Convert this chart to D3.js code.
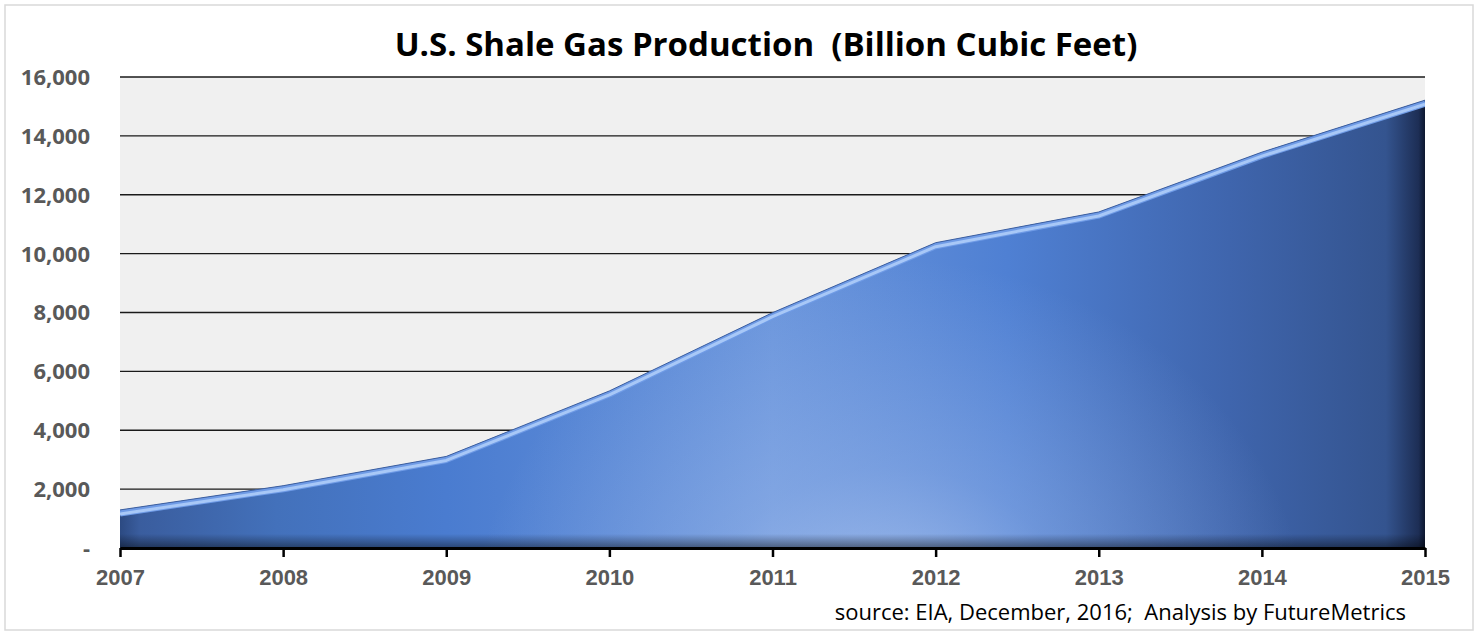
<!DOCTYPE html>
<html>
<head>
<meta charset="utf-8">
<script src="https://cdn.jsdelivr.net/npm/d3@7"></script>
<style>
  body { margin: 0; background: #fff; }
  svg { display: block; font-family: "Open Sans", Lato, sans-serif; }
</style>
</head>
<body>
<svg id="chart"></svg>
<script>
var years = [2007, 2008, 2009, 2010, 2011, 2012, 2013, 2014, 2015]
var production = [1293, 2116, 3110, 5336, 7994, 10371, 11415, 13447, 15213]
var yTicks = [0, 2000, 4000, 6000, 8000, 10000, 12000, 14000, 16000]

var W = 1478, H = 635
var margin = { top: 77, left: 120, right: 53, bottom: 87 }
var width = W - margin.left - margin.right
var height = H - margin.top - margin.bottom

var data = years.map((y, i) => ({ year: y, value: production[i] }))

var svg = d3.select("#chart").attr("width", W).attr("height", H)

// outer frame
svg.append("rect")
    .attr("x", 5).attr("y", 5)
    .attr("width", W - 10).attr("height", H - 10)
    .attr("fill", "#fff")
    .attr("stroke", "#d9d9d9")
    .attr("stroke-width", 1.5)

var defs = svg.append("defs")

var hgrad = defs.append("linearGradient")
    .attr("id", "hgrad")
    .attr("x1", "0").attr("x2", "1").attr("y1", "0").attr("y2", "0")
hgrad.selectAll("stop")
    .data([
        ["0%", "#2c4a82"], ["1.5%", "#3a5d9e"], ["12%", "#4371bb"], ["25%", "#4a7cd0"],
        ["50%", "#6a95dc"], ["68%", "#4f80d3"], ["85%", "#3f65ad"], ["97%", "#34548f"],
        ["99.5%", "#1d2e55"], ["100%", "#0d1730"]
    ])
    .join("stop")
    .attr("offset", d => d[0])
    .attr("stop-color", d => d[1])

var glow = defs.append("radialGradient")
    .attr("id", "glow")
    .attr("gradientUnits", "userSpaceOnUse")
    .attr("cx", 770).attr("cy", 560).attr("r", 420)
    .attr("gradientTransform", "translate(770,560) scale(1,0.9) translate(-770,-560)")
glow.append("stop").attr("offset", "0%").attr("stop-color", "#c4d6f5").attr("stop-opacity", 0.75)
glow.append("stop").attr("offset", "45%").attr("stop-color", "#a9c2ee").attr("stop-opacity", 0.35)
glow.append("stop").attr("offset", "100%").attr("stop-color", "#a9c2ee").attr("stop-opacity", 0)

var bottomShade = defs.append("linearGradient")
    .attr("id", "bshade")
    .attr("x1", "0").attr("x2", "0").attr("y1", "0").attr("y2", "1")
bottomShade.append("stop").attr("offset", "0%").attr("stop-color", "#000").attr("stop-opacity", 0)
bottomShade.append("stop").attr("offset", "97%").attr("stop-color", "#000").attr("stop-opacity", 0)
bottomShade.append("stop").attr("offset", "100%").attr("stop-color", "#000").attr("stop-opacity", 0.45)

var g = svg.append("g")
    .attr("transform", "translate(" + margin.left + "," + margin.top + ")")

var x = d3.scaleLinear()
    .domain([years[0], years[years.length - 1]])
    .range([0, width])

var y = d3.scaleLinear()
    .domain([0, 16000])
    .range([height, 0])

// plot background
g.append("rect")
    .attr("width", width).attr("height", height)
    .attr("fill", "#f0f0f0")

// gridlines
g.append("g")
    .selectAll("line")
    .data(yTicks.filter(d => d > 0))
    .join("line")
    .attr("x1", 0).attr("x2", width)
    .attr("y1", d => y(d)).attr("y2", d => y(d))
    .attr("stroke", "#1a1a1a")
    .attr("stroke-width", 1.3)

var area = d3.area()
    .x(d => x(d.year))
    .y0(y(0))
    .y1(d => y(d.value))

var line = d3.line()
    .x(d => x(d.year))
    .y(d => y(d.value))

defs.append("clipPath").attr("id", "areaclip")
    .append("path").attr("d", area(data))

g.append("path")
    .attr("d", area(data))
    .attr("fill", "url(#hgrad)")

var inner = g.append("g").attr("clip-path", "url(#areaclip)")

inner.append("rect")
    .attr("x", -margin.left).attr("y", -margin.top)
    .attr("width", W).attr("height", H)
    .attr("fill", "url(#glow)")

inner.append("rect")
    .attr("width", width).attr("height", height)
    .attr("fill", "url(#bshade)")

// bevel on top edge
inner.append("path")
    .attr("d", line(data))
    .attr("fill", "none")
    .attr("stroke", "#6f9be6")
    .attr("stroke-width", 9)
    .attr("stroke-linejoin", "round")
    .attr("transform", "translate(0,2)")

inner.append("path")
    .attr("d", line(data))
    .attr("fill", "none")
    .attr("stroke", "#a8c8f7")
    .attr("stroke-width", 3)
    .attr("stroke-linejoin", "round")
    .attr("transform", "translate(0,4)")

g.append("path")
    .attr("d", line(data))
    .attr("fill", "none")
    .attr("stroke", "#3d5f9f")
    .attr("stroke-width", 1)

// x axis
var xAxis = g.append("g")
    .attr("transform", "translate(0," + height + ")")
    .call(d3.axisBottom(x).tickValues(years).tickFormat(d3.format("d")).tickSize(9).tickSizeOuter(0))

xAxis.select(".domain").attr("stroke", "#000").attr("stroke-width", 3)
xAxis.selectAll(".tick line").attr("stroke", "#000").attr("stroke-width", 2.5)
xAxis.selectAll(".tick text")
    .attr("y", 37)
    .attr("dy", null)
    .attr("fill", "#595959")
    .style("font-size", "22px")
    .style("font-weight", "bold")

// y labels
var fmt = d3.format(",")
g.append("g")
    .selectAll("text")
    .data(yTicks)
    .join("text")
    .attr("x", -30)
    .attr("y", d => y(d))
    .attr("dy", "0.36em")
    .attr("text-anchor", "end")
    .attr("fill", "#595959")
    .style("font-size", "22px")
    .style("font-weight", "bold")
    .text(d => d === 0 ? "-" : fmt(d))

// title
svg.append("text")
    .attr("x", 766)
    .attr("y", 56)
    .attr("text-anchor", "middle")
    .style("font-size", "33px")
    .style("font-weight", "bold")
    .attr("fill", "#000")
    .attr("xml:space", "preserve")
    .text("U.S. Shale Gas Production  (Billion Cubic Feet)")

// source
svg.append("text")
    .attr("x", 1406)
    .attr("y", 620)
    .attr("text-anchor", "end")
    .style("font-size", "22px")
    .attr("fill", "#000")
    .attr("xml:space", "preserve")
    .text("source: EIA, December, 2016;  Analysis by FutureMetrics")
</script>
</body>
</html>
